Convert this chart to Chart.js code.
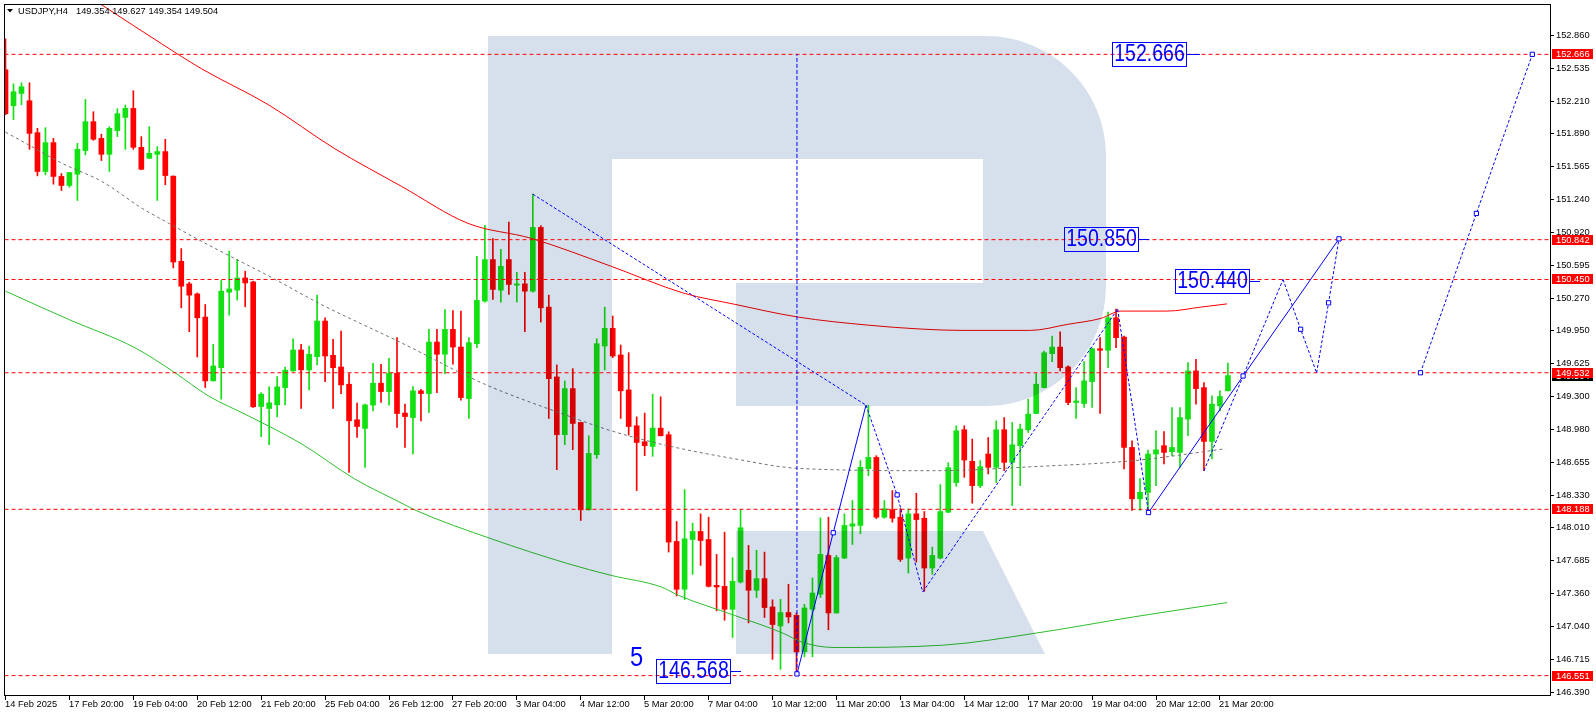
<!DOCTYPE html>
<html>
<head>
<meta charset="utf-8">
<script src="https://cdn.jsdelivr.net/npm/chart.js@4.4.1/dist/chart.umd.min.js"></script>
<style>
html, body { margin: 0; padding: 0; background: #fff; }
#wrap { width: 1596px; height: 716px; }
</style>
</head>
<body>
<div id="wrap"><canvas id="chart" width="1596" height="716"></canvas></div>
<script>
// USDJPY H4, one candle per 4 hours, index 0 = 14 Feb 2025 12:00
var opens = [152.514,152.160,152.281,152.209,151.895,151.513,151.797,151.464,151.375,151.486,
  151.719,152.003,151.839,151.682,151.915,152.045,152.134,151.751,151.643,151.682,
  151.709,151.467,150.629,150.407,150.308,150.080,149.452,149.582,150.325,150.345,
  150.465,150.426,149.200,149.180,149.216,149.386,149.550,149.756,149.560,149.690,
  150.041,149.704,149.589,149.419,149.069,148.984,149.213,149.429,149.347,149.527,
  149.135,149.091,149.354,149.327,149.834,149.714,149.959,149.785,149.278,149.818,
  150.237,150.646,150.345,150.646,150.394,150.407,150.335,150.963,150.178,149.491,
  148.922,149.376,149.043,148.183,148.725,149.795,149.969,149.707,149.363,149.010,
  148.853,148.807,148.987,148.922,147.872,147.401,147.891,147.970,147.891,147.440,
  147.430,147.204,147.472,147.587,147.391,147.506,147.227,147.040,147.172,147.145,
  146.785,147.204,147.352,147.734,147.168,147.708,148.022,148.029,148.588,148.699,
  148.110,148.183,148.110,147.708,148.143,148.100,147.610,147.708,148.159,148.451,
  148.971,148.660,148.421,148.732,148.601,148.971,148.650,148.814,148.971,149.131,
  149.386,149.720,149.785,149.589,149.239,149.229,149.445,149.769,149.753,150.073,
  149.883,148.797,148.291,148.355,148.732,148.814,148.755,148.748,149.076,149.550,
  149.386,148.856,149.206,149.354];
var highs = [152.818,152.376,152.386,152.386,151.938,151.944,151.839,151.493,151.503,151.790,
  152.222,152.101,151.879,151.954,152.131,152.167,152.308,151.856,151.954,151.758,
  151.830,151.470,150.754,150.423,150.318,150.204,149.812,150.440,150.728,150.646,
  150.531,150.433,149.337,149.393,149.494,149.589,149.867,149.812,149.795,150.296,
  150.073,149.861,149.942,149.523,149.233,149.223,149.625,149.616,149.674,149.877,
  149.223,149.396,149.370,149.959,149.959,150.155,150.145,150.139,149.877,150.678,
  150.983,150.852,150.747,151.015,150.521,150.521,151.290,150.980,150.296,149.609,
  149.452,149.572,149.045,148.912,149.867,150.178,150.090,149.805,149.729,149.098,
  149.135,149.321,149.295,148.951,148.068,148.382,148.051,148.143,148.110,147.744,
  147.963,147.712,148.183,147.832,147.784,147.767,147.297,147.302,147.450,147.168,
  147.253,147.512,148.104,148.110,147.734,148.143,148.274,148.667,149.213,148.716,
  148.274,148.372,148.196,148.192,148.346,148.166,147.816,148.431,148.647,149.010,
  149.010,148.879,148.667,148.895,149.059,149.091,149.043,149.027,149.272,149.523,
  149.746,149.893,149.936,149.599,149.386,149.641,149.776,149.877,150.129,150.158,
  149.893,148.863,148.490,148.772,148.961,148.954,149.190,149.190,149.631,149.665,
  149.435,149.305,149.354,149.627];
var lows = [152.072,152.023,152.170,151.731,151.470,151.480,151.388,151.326,151.358,151.228,
  151.677,151.820,151.621,151.513,151.856,151.731,151.731,151.530,151.640,151.228,
  151.382,150.564,150.171,149.936,149.687,149.386,149.450,149.272,150.099,150.247,
  150.181,149.190,148.902,148.824,149.098,149.216,149.548,149.180,149.363,149.609,
  149.445,149.180,149.327,148.552,148.895,148.601,149.157,149.239,149.213,148.993,
  148.797,148.732,149.059,149.141,149.337,149.523,149.616,149.262,149.082,149.778,
  150.227,150.253,150.227,150.303,150.230,149.936,150.325,150.031,149.082,148.578,
  148.824,148.775,148.078,148.180,148.689,149.560,149.680,149.082,148.919,148.372,
  148.716,148.709,148.910,147.767,147.335,147.299,147.548,147.636,147.423,147.188,
  147.096,146.926,147.462,147.070,147.319,147.123,146.711,146.612,147.070,146.568,
  146.736,146.736,147.319,147.002,147.165,147.702,147.842,147.947,148.519,148.097,
  148.100,148.061,147.675,147.561,147.668,147.381,147.548,147.700,148.156,148.414,
  148.503,148.248,148.401,148.536,148.451,148.568,148.225,148.421,148.944,149.130,
  149.383,149.641,149.550,149.219,149.082,149.190,149.190,149.131,149.582,149.778,
  148.585,148.176,148.176,148.156,148.421,148.634,148.716,148.601,148.912,149.223,
  148.568,148.683,149.157,149.354];
var closes = [152.082,152.298,152.347,151.888,151.513,151.797,151.464,151.375,151.503,151.731,
  152.003,151.830,151.682,151.938,152.082,152.134,151.751,151.535,151.692,151.709,
  151.473,150.622,150.384,150.296,150.073,149.452,149.599,150.335,150.357,150.465,
  150.416,149.197,149.321,149.236,149.393,149.557,149.756,149.560,149.714,150.041,
  149.697,149.582,149.412,149.059,149.003,149.216,149.429,149.347,149.527,149.131,
  149.101,149.354,149.327,149.834,149.714,149.959,149.785,149.288,149.828,150.244,
  150.646,150.352,150.580,150.401,150.407,150.335,150.963,150.171,149.474,148.922,
  149.376,149.033,148.183,148.738,149.818,149.969,149.697,149.354,149.003,148.846,
  148.814,148.987,148.912,147.865,147.401,147.898,147.970,147.881,147.430,147.423,
  147.204,147.479,148.006,147.391,147.506,147.221,147.054,147.172,147.129,146.785,
  147.217,147.364,147.744,147.168,147.712,148.029,148.045,148.601,148.699,148.110,
  148.193,148.100,147.695,148.143,148.087,147.610,147.734,148.166,148.598,148.961,
  148.673,148.421,148.608,148.601,148.971,148.650,148.823,148.978,149.125,149.419,
  149.729,149.785,149.582,149.239,149.255,149.452,149.769,149.753,150.073,149.877,
  148.797,148.291,148.355,148.732,148.774,148.748,148.797,149.091,149.550,149.376,
  148.856,149.223,149.298,149.504];

var xTickIdx = [0,8,16,24,32,40,48,56,64,72,80,88,96,104,112,120,128,136,144,152];
var xTickLabels = ['14 Feb 2025','17 Feb 20:00','19 Feb 04:00','20 Feb 12:00','21 Feb 20:00',
  '25 Feb 04:00','26 Feb 12:00','27 Feb 20:00','3 Mar 04:00','4 Mar 12:00','5 Mar 20:00',
  '7 Mar 04:00','10 Mar 12:00','11 Mar 20:00','13 Mar 04:00','14 Mar 12:00','17 Mar 20:00',
  '19 Mar 04:00','20 Mar 12:00','21 Mar 20:00'];
var yTickLabels = ['152.860','152.535','152.210','151.890','151.565','151.240','150.920',
  '150.595','150.270','149.950','149.625','149.300','148.980','148.655','148.330','148.010',
  '147.685','147.360','147.040','146.715','146.390'];

var levels = [152.666, 150.842, 150.450, 149.532, 148.188, 146.551];
var lastPrice = 149.504;

// moving averages [candle index, price]
var maRed = [[0,153.77],[12.06,153.152],[19.56,152.769],[24.56,152.523],[32.9,152.170],
  [41.2,151.738],[49.6,151.365],[57.9,151.002],[65.8,150.855],[75.8,150.580],[84.9,150.315],
  [91.2,150.207],[99.2,150.080],[107.9,150.001],[114.6,149.962],[119.6,149.949],[128.3,149.949],
  [132.9,150.008],[137.1,150.067],[139.6,150.139],[145.4,150.139],[149.6,150.178],[152.9,150.210]];
var maGray = [[0,151.90],[2.9,151.775],[7.06,151.594],[12.06,151.415],[17.06,151.152],
  [20.4,151.005],[24.15,150.842],[33.7,150.453],[39.2,150.217],[49.6,149.825],[59.9,149.422],
  [70.4,149.108],[75.8,148.961],[82.9,148.814],[91.2,148.686],[99.2,148.591],[116.2,148.568],
  [128.7,148.608],[141.2,148.667],[152.7,148.784]];
var maGreen = [[0,150.335],[7.9,150.057],[16.2,149.778],[21.2,149.533],[25.4,149.304],
  [30.4,149.108],[37.1,148.830],[43.7,148.487],[49.6,148.248],[51.4,148.176],[60.8,147.898],
  [70.4,147.653],[75.8,147.538],[82.1,147.423],[84.2,147.342],[91.2,147.145],[97.4,146.966],
  [99.6,146.883],[103.7,146.828],[117.4,146.851],[128.7,146.966],[141.2,147.129],[152.9,147.270]];

// wave drawing
var waveSolid1 = [[99.06,146.568],[103.6,147.957],[107.7,149.213]];
var waveSolid2 = [[143.06,148.156],[154.9,149.50],[166.9,150.850]];
var waveDash1 = [[66,151.290],[107.7,149.213]];
var waveDash2 = [[107.7,149.213],[111.6,148.330],[114.8,147.374]];
var waveDash3 = [[114.8,147.374],[139.2,150.158]];
var waveDash4 = [[139.2,150.158],[143.06,148.156]];
var waveDash5 = [[150,148.568],[159.9,150.450]];
var waveDash6 = [[159.9,150.450],[162.1,149.960],[164.1,149.532]];
var waveDash7 = [[164.1,149.532],[165.6,150.220],[166.9,150.850]];
var waveDash8 = [[177.1,149.532],[184.1,151.100],[191.1,152.666]];
var waveStem = [[99.06,146.568],[99.06,152.666]];

var tagTexts = ['152.666','150.850','150.440','146.568'];

var upCol = '#12e012', dnCol = '#ff0000', blue = '#0000ff';
var candleCols = closes.map(function(c, i){ return c >= opens[i] ? upCol : dnCol; });

function lineSet(label, pts, color, dash, order, marks) {
  return {
    type: 'line', label: label,
    data: pts.map(function(p){ return {x: p[0], y: p[1]}; }),
    borderColor: color, borderWidth: 1, borderDash: dash || [],
    pointRadius: pts.map(function(p, k){ return marks && marks.indexOf(k) >= 0 ? 3 : 0; }),
    pointStyle: 'rect', pointBackgroundColor: '#fff', pointBorderColor: color, pointBorderWidth: 1,
    tension: 0, fill: false, order: order
  };
}
function smoothSet(label, pts, color, dash, order) {
  var ds = lineSet(label, pts, color, dash, order);
  ds.cubicInterpolationMode = 'monotone';
  return ds;
}

var datasets = [
  {type: 'bar', label: 'wicks', data: lows.map(function(l, i){ return {x: i, y: [l, highs[i]]}; }),
   backgroundColor: candleCols, barThickness: 1, grouped: false, borderWidth: 0, order: 30},
  {type: 'bar', label: 'bodies', data: opens.map(function(o, i){ return {x: i, y: [o, closes[i]]}; }),
   backgroundColor: candleCols, barThickness: 5, grouped: false, borderWidth: 0, minBarLength: 1, order: 29},
  smoothSet('maRed', maRed, '#ff0000', [], 28),
  smoothSet('maGreen', maGreen, '#2dbf2d', [], 27),
  smoothSet('maGray', maGray, '#707070', [3, 3], 26)
];
levels.forEach(function(v){
  datasets.push(lineSet('lvl', [[-1, v], [200, v]], '#ff0000', [4, 3], 20));
});
datasets.push(lineSet('stem', waveStem, blue, [4, 2], 10));
datasets.push(lineSet('d1', waveDash1, blue, [3, 2], 9));
datasets.push(lineSet('d2', waveDash2, blue, [3, 2], 9, [1]));
datasets.push(lineSet('d3', waveDash3, blue, [3, 2], 9));
datasets.push(lineSet('d4', waveDash4, blue, [3, 2], 9));
datasets.push(lineSet('d5', waveDash5, blue, [3, 2], 9));
datasets.push(lineSet('d6', waveDash6, blue, [3, 2], 9, [1]));
datasets.push(lineSet('d7', waveDash7, blue, [3, 2], 9, [1]));
datasets.push(lineSet('d8', waveDash8, blue, [3, 2], 9, [0, 1, 2]));
datasets.push(lineSet('s1', waveSolid1, blue, [], 8, [0, 1]));
datasets.push(lineSet('s2', waveSolid2, blue, [], 8, [0, 1, 2]));

function drawLogo(chart) {
  var ctx = chart.ctx, a = chart.chartArea;
  ctx.save();
  ctx.beginPath();
  ctx.rect(a.left, a.top, a.right - a.left, a.bottom - a.top);
  ctx.clip();
  ctx.globalCompositeOperation = 'multiply';
  ctx.fillStyle = '#d6e0ec';
  ctx.beginPath();
  ctx.rect(488, 36, 124, 618);
  ctx.moveTo(612, 36); ctx.lineTo(986, 36);
  ctx.arc(986, 156, 120, -Math.PI / 2, 0);
  ctx.lineTo(1106, 286);
  ctx.arc(986, 286, 120, 0, Math.PI / 2);
  ctx.lineTo(736, 406); ctx.lineTo(736, 283); ctx.lineTo(983, 283);
  ctx.lineTo(983, 159); ctx.lineTo(612, 159); ctx.closePath();
  ctx.moveTo(736, 531); ctx.lineTo(983, 531); ctx.lineTo(1045, 654); ctx.lineTo(736, 654); ctx.closePath();
  ctx.fill();
  ctx.restore();
}

function blueTag(ctx, xs, ys, text, iRight, price, tail) {
  var xr = Math.round(xs.getPixelForValue(iRight));
  var yc = Math.round(ys.getPixelForValue(price));
  var w = 74, h = 24;
  ctx.strokeStyle = blue; ctx.lineWidth = 1;
  ctx.strokeRect(xr - w + 0.5, yc - h / 2 + 0.5, w, h);
  ctx.beginPath(); ctx.moveTo(xr + 1, yc + 0.5); ctx.lineTo(xr + 1 + tail, yc + 0.5); ctx.stroke();
  ctx.save();
  ctx.translate(xr - w / 2 + 0.5, yc + 1);
  ctx.scale(0.85, 1);
  ctx.fillStyle = blue; ctx.font = '23px "Liberation Sans", Arial, sans-serif';
  ctx.textAlign = 'center'; ctx.textBaseline = 'middle';
  ctx.fillText(text, 0, 0);
  ctx.restore();
}

var chrome = {
  id: 'chrome',
  afterDatasetDraw: function(chart, args) {
    if (chart.data.datasets[args.index].label === 'maGray') drawLogo(chart);
  },
  afterDraw: function(chart) {
    var ctx = chart.ctx, a = chart.chartArea, xs = chart.scales.x, ys = chart.scales.y;
    ctx.save();
    ctx.strokeStyle = '#000'; ctx.lineWidth = 1;
    ctx.strokeRect(a.left - 0.5, a.top - 0.5, a.right - a.left + 1, a.bottom - a.top + 1);

    var font = '9.3px "Liberation Sans", Arial, sans-serif';
    ctx.font = font; ctx.textBaseline = 'middle'; ctx.textAlign = 'left';
    // price axis
    ctx.fillStyle = '#000';
    yTickLabels.forEach(function(t){
      var y = Math.round(ys.getPixelForValue(parseFloat(t))) + 0.5;
      ctx.beginPath(); ctx.moveTo(a.right, y); ctx.lineTo(a.right + 4, y); ctx.stroke();
      ctx.fillText(t, a.right + 6, y);
    });
    var yl = Math.round(ys.getPixelForValue(lastPrice));
    ctx.fillStyle = '#000'; ctx.fillRect(a.right + 2, yl - 5, 41, 10);
    ctx.fillStyle = '#fff'; ctx.fillText(lastPrice.toFixed(3), a.right + 6, yl);
    levels.forEach(function(v){
      var y = Math.round(ys.getPixelForValue(v));
      ctx.fillStyle = '#ff0000'; ctx.fillRect(a.right + 2, y - 5, 41, 10);
      ctx.fillStyle = '#fff'; ctx.fillText(v.toFixed(3), a.right + 6, y);
    });
    // time axis
    ctx.fillStyle = '#000';
    xTickIdx.forEach(function(idx, k){
      var x = Math.round(xs.getPixelForValue(idx) - 0.5) + 0.5;
      ctx.beginPath(); ctx.moveTo(x, a.bottom); ctx.lineTo(x, a.bottom + 5); ctx.stroke();
      ctx.fillText(xTickLabels[k], x - 0.5, a.bottom + 9.5);
    });
    // header
    ctx.beginPath(); ctx.moveTo(7, 9); ctx.lineTo(13, 9); ctx.lineTo(10, 12.5); ctx.closePath(); ctx.fill();
    ctx.fillText('USDJPY,H4', 18, 11);
    ctx.fillText([opens[153], highs[153], lows[153], closes[153]].map(function(v){ return v.toFixed(3); }).join(' '), 76, 11);

    // wave tags
    blueTag(ctx, xs, ys, tagTexts[0], 147.8, 152.666, 13);
    blueTag(ctx, xs, ys, tagTexts[1], 141.7, 150.850, 10);
    blueTag(ctx, xs, ys, tagTexts[2], 155.7, 150.440, 10);
    blueTag(ctx, xs, ys, tagTexts[3], 90.7, 146.595, 10);
    ctx.save();
    ctx.translate(xs.getPixelForValue(79), ys.getPixelForValue(146.733));
    ctx.scale(0.85, 1);
    ctx.fillStyle = blue; ctx.font = '28px "Liberation Sans", Arial, sans-serif';
    ctx.textAlign = 'center'; ctx.textBaseline = 'middle';
    ctx.fillText('5', 0, 1);
    ctx.restore();
    ctx.restore();
  }
};

new Chart(document.getElementById('chart'), {
  type: 'bar',
  data: {datasets: datasets},
  options: {
    responsive: false, animation: false, devicePixelRatio: 1, events: [],
    layout: {padding: {left: 3, top: 3, right: 46, bottom: 21}},
    plugins: {legend: {display: false}, tooltip: {enabled: false}},
    scales: {
      x: {type: 'linear', min: -0.0625, max: 193.3125, offset: false, display: false},
      y: {type: 'linear', min: 146.3603, max: 153.1516, beginAtZero: false, display: false}
    }
  },
  plugins: [chrome]
});
</script>
</body>
</html>
